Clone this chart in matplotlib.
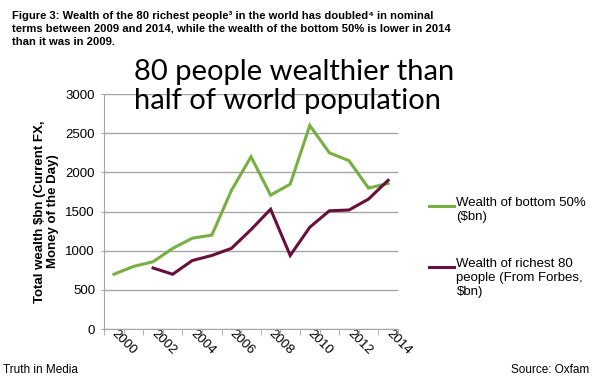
import numpy as np
import matplotlib.pyplot as plt
from matplotlib.ticker import FixedLocator

# data ($bn)
years = list(range(2000, 2015))
bottom50 = [700, 800, 860, 1030, 1160, 1200, 1770, 2200, 1710, 1850, 2600, 2250, 2150, 1800, 1860]
richest80 = [None, None, 780, 700, 875, 940, 1030, 1270, 1530, 940, 1300, 1510, 1520, 1660, 1900]
yticks = [0, 500, 1000, 1500, 2000, 2500, 3000]
xlabels = ['2000', '2002', '2004', '2006', '2008', '2010', '2012', '2014']

green = '#76b041'
purple = '#6a0f3d'
grey = '#a6a6a6'

plt.rcParams['font.family'] = ['Liberation Sans', 'DejaVu Sans']

fig = plt.figure(figsize=(6.16, 3.84), dpi=100)
ax = fig.add_axes([0.169, 0.143, 0.477, 0.612])

x = np.arange(len(years))
r = np.array([np.nan if v is None else v for v in richest80], dtype=float)
ax.plot(x, bottom50, color=green, lw=2.2, solid_joinstyle='miter')
ax.plot(x, r, color=purple, lw=2.2, solid_joinstyle='miter')

ax.set_xlim(-0.5, len(years) - 0.5)
ax.set_ylim(0, 3000)
ax.set_yticks(yticks)
ax.yaxis.grid(True, color=grey, lw=1)
ax.set_axisbelow(True)

# category ticks between years, labels every other year
ax.xaxis.set_major_locator(FixedLocator(x[::2]))
ax.set_xticklabels(xlabels, rotation=-45, ha='left', va='center', rotation_mode='anchor', fontsize=9.5)
ax.xaxis.set_minor_locator(FixedLocator(np.arange(-0.5, len(years), 1)))
ax.tick_params(axis='x', which='major', length=0, pad=2)
ax.tick_params(axis='x', which='minor', length=4, direction='out', color=grey)
ax.tick_params(axis='y', length=5, direction='inout', color=grey, labelsize=9.5, pad=4)

for s in ['top', 'right']:
    ax.spines[s].set_visible(False)
for s in ['left', 'bottom']:
    ax.spines[s].set_color(grey)

ax.set_ylabel('Total wealth \\$bn (Current FX,\nMoney of the Day)', fontsize=9.5,
              fontweight='bold', labelpad=5, linespacing=1.1)

# legend drawn as lines + labels at the right
fig.add_artist(plt.Line2D([0.696, 0.737], [0.464, 0.464], color=green, lw=2.2))
fig.text(0.741, 0.487, 'Wealth of bottom 50%\n(\\$bn)', fontsize=9.5, va='top', ha='left',
         linespacing=1.2)
fig.add_artist(plt.Line2D([0.696, 0.737], [0.305, 0.305], color=purple, lw=2.2))
fig.text(0.741, 0.328, 'Wealth of richest 80\npeople (From Forbes,\n\\$bn)', fontsize=9.5,
         va='top', ha='left', linespacing=1.2)

fig.text(0.02, 0.972, 'Figure 3: Wealth of the 80 richest people\u00b3 in the world has doubled\u2074 in nominal\n'
         'terms between 2009 and 2014, while the wealth of the bottom 50% is lower in 2014\n'
         'than it was in 2009.', fontsize=8.1, fontweight='bold', va='top', ha='left', linespacing=1.4)

fig.text(0.218, 0.775, '80 people wealthier than\nhalf of world population', fontsize=21,
         family='Lato', va='center', ha='left', linespacing=1.17)

fig.text(0.005, 0.02, 'Truth in Media', fontsize=8.5, ha='left', va='bottom')
fig.text(0.83, 0.02, 'Source: Oxfam', fontsize=8.5, ha='left', va='bottom')

fig.savefig('out.png', dpi=100)
